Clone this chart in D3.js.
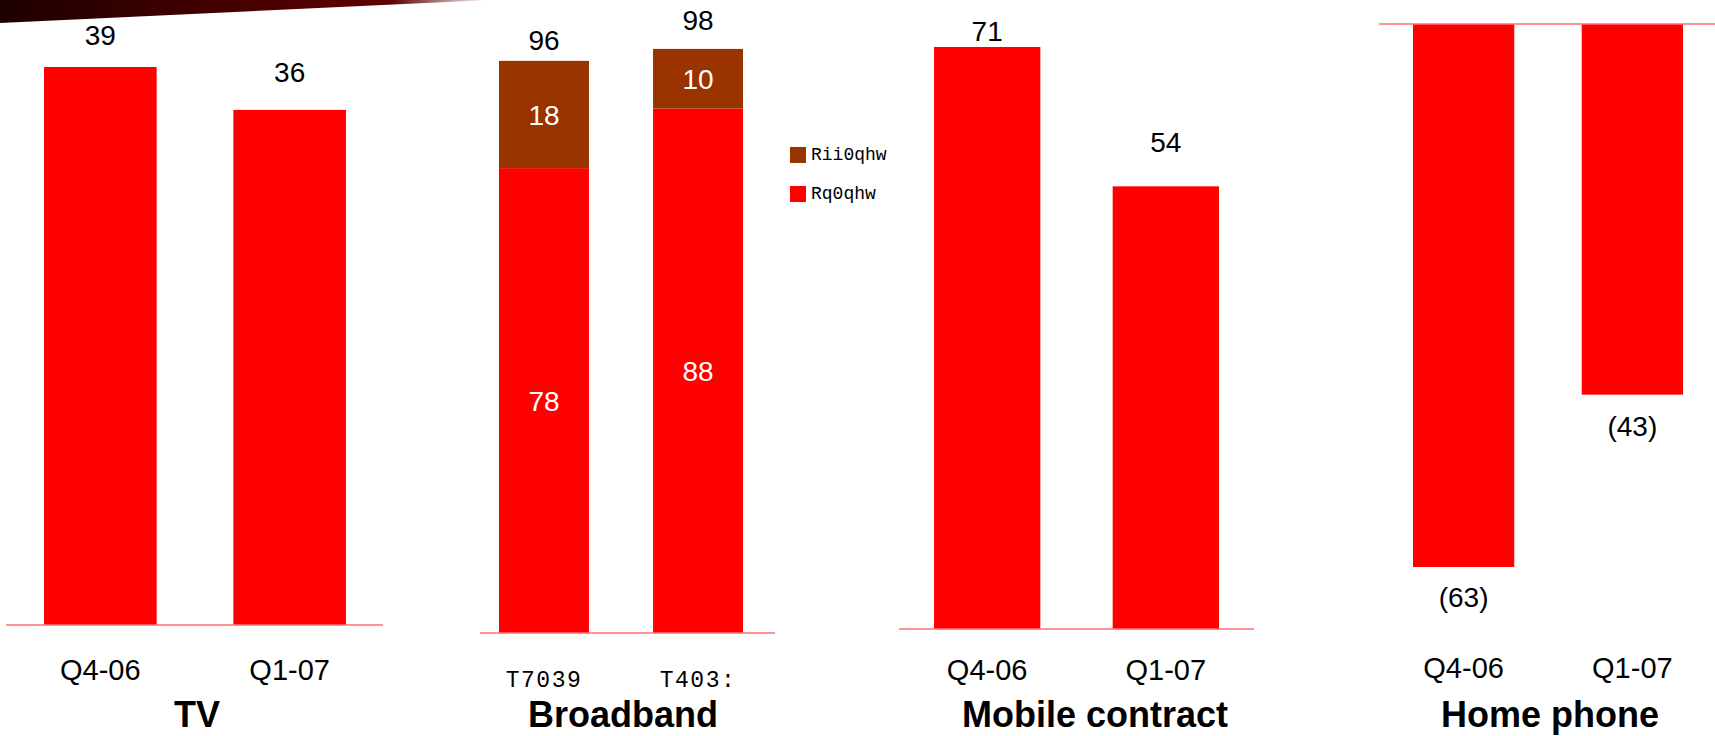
<!DOCTYPE html>
<html>
<head>
<meta charset="utf-8">
<script src="https://cdn.jsdelivr.net/npm/d3@7"></script>
<style>
    html, body { margin: 0; padding: 0; background: #fff; }
    svg { display: block; }
    text { font-family: "Liberation Sans", Arial, sans-serif; }
    .mono { font-family: "Liberation Mono", "Courier New", monospace; }
</style>
</head>
<body>
<svg id="chart" width="1715" height="736"></svg>
<script>
"use strict";

// net adds per quarter, thousands
const periods = ["Q4-06", "Q1-07"];
const tvAdds = [39, 36];
const onNetAdds = [78, 88];
const offNetAdds = [18, 10];
const mobileAdds = [71, 54];
const homePhoneAdds = [-63, -43];

const broadbandPeriodLabels = ["T7039", "T403:"];
const legendLabels = ["Rii0qhw", "Rq0qhw"];
const panelTitles = ["TV", "Broadband", "Mobile contract", "Home phone"];

const RED = "#ff0000";
const BROWN = "#993300";
const AXIS = "#ff7070";

const svg = d3.select("#chart");

// corner swoosh
const grad = svg.append("defs").append("linearGradient")
    .attr("id", "swoosh")
    .attr("x1", "0%").attr("x2", "100%");
grad.append("stop").attr("offset", "0%").attr("stop-color", "#1e0000");
grad.append("stop").attr("offset", "45%").attr("stop-color", "#440000");
grad.append("stop").attr("offset", "80%").attr("stop-color", "#600000");
grad.append("stop").attr("offset", "100%").attr("stop-color", "#ffffff");
svg.append("path")
    .attr("d", "M0,0 L490,0 L0,23 Z")
    .attr("fill", "url(#swoosh)");

// layout of each panel: bar extent, value range, axis line
const panels = [
    { title: panelTitles[0], bars: [44, 346], pad: 0.405, domain: [0, 39], range: [625, 67],
      line: [6, 383], titleX: 197, catY: 680, labelOff: [-22, -28] },
    { title: panelTitles[1], bars: [499, 743], pad: 0.416, domain: [0, 100], range: [633, 37],
      line: [480, 775], titleX: 623, catY: 687, labelOff: [-11, -19] },
    { title: panelTitles[2], bars: [934, 1219], pad: 0.405, domain: [0, 71], range: [629, 47],
      line: [899, 1254], titleX: 1095, catY: 680, labelOff: [-6, -34] },
    { title: panelTitles[3], bars: [1413, 1683], pad: 0.4, domain: [-63, 0], range: [567, 24],
      line: [1379, 1715], titleX: 1550, catY: 678, labelOff: [40, 41] }
];

function makeScales(p) {
    const x = d3.scaleBand().domain(periods).range(p.bars).paddingInner(p.pad).paddingOuter(0);
    const y = d3.scaleLinear().domain(p.domain).range(p.range);
    return { x, y };
}

function drawPanel(p, values, opts = {}) {
    const { x, y } = makeScales(p);
    const g = svg.append("g").classed("panel", true);
    const rows = periods.map((period, i) => ({ period, value: values[i], off: p.labelOff[i] }));

    g.selectAll("rect.bar")
        .data(rows)
        .join("rect")
        .classed("bar", true)
        .attr("x", d => x(d.period))
        .attr("width", x.bandwidth())
        .attr("y", d => Math.min(y(d.value), y(0)))
        .attr("height", d => Math.abs(y(d.value) - y(0)))
        .attr("fill", RED);

    g.append("line")
        .attr("x1", p.line[0]).attr("x2", p.line[1])
        .attr("y1", y(0)).attr("y2", y(0))
        .attr("stroke", AXIS)
        .attr("stroke-width", 1.5);

    g.selectAll("text.value")
        .data(rows)
        .join("text")
        .classed("value", true)
        .attr("x", d => x(d.period) + x.bandwidth() / 2)
        .attr("y", d => y(d.value) + d.off)
        .attr("text-anchor", "middle")
        .attr("font-size", 28)
        .attr("fill", "#000")
        .text(d => d.value < 0 ? `(${-d.value})` : d.value);

    const catLabels = opts.catLabels || periods;
    g.selectAll("text.cat")
        .data(periods)
        .join("text")
        .attr("class", opts.monoCats ? "cat mono" : "cat")
        .attr("x", d => x(d) + x.bandwidth() / 2)
        .attr("y", p.catY)
        .attr("text-anchor", "middle")
        .attr("font-size", opts.monoCats ? 23 : 29)
        .attr("letter-spacing", opts.monoCats ? 1.5 : 0)
        .text((d, i) => catLabels[i]);

    g.append("text")
        .attr("x", p.titleX)
        .attr("y", 727)
        .attr("text-anchor", "middle")
        .attr("font-size", 36)
        .attr("font-weight", "bold")
        .text(p.title);

    return { g, x, y };
}

drawPanel(panels[0], tvAdds);

// broadband: on-net + off-net stacked, totals on top
const bbTotals = periods.map((_, i) => onNetAdds[i] + offNetAdds[i]);
const bb = drawPanel(panels[1], bbTotals, {
    catLabels: broadbandPeriodLabels,
    monoCats: true
});
bb.g.selectAll("rect.bar").remove();

const stackRows = periods.map((period, i) => ({ period, onNet: onNetAdds[i], offNet: offNetAdds[i] }));
const stacked = d3.stack().keys(["onNet", "offNet"])(stackRows);
const stackColor = d3.scaleOrdinal().domain(["onNet", "offNet"]).range([RED, BROWN]);

const layers = bb.g.insert("g", "line")
    .selectAll("g.layer")
    .data(stacked)
    .join("g")
    .classed("layer", true)
    .attr("fill", s => stackColor(s.key));

layers.selectAll("rect")
    .data(s => s)
    .join("rect")
    .attr("x", d => bb.x(d.data.period))
    .attr("width", bb.x.bandwidth())
    .attr("y", d => bb.y(d[1]))
    .attr("height", d => bb.y(d[0]) - bb.y(d[1]));

bb.g.selectAll("g.seglabels")
    .data(stacked)
    .join("g")
    .classed("seglabels", true)
    .selectAll("text")
    .data(s => s)
    .join("text")
    .attr("x", d => bb.x(d.data.period) + bb.x.bandwidth() / 2)
    .attr("y", d => (bb.y(d[0]) + bb.y(d[1])) / 2)
    .attr("dy", "0.36em")
    .attr("text-anchor", "middle")
    .attr("font-size", 28)
    .attr("fill", "#fff")
    .text(d => d[1] - d[0]);

// legend, off-net on top
const legend = svg.append("g")
    .attr("transform", "translate(790,147)")
    .selectAll("g")
    .data([BROWN, RED])
    .join("g")
    .attr("transform", (d, i) => `translate(0,${i * 39})`);
legend.append("rect")
    .attr("width", 16).attr("height", 16)
    .attr("fill", d => d);
legend.append("text")
    .classed("mono", true)
    .attr("x", 21)
    .attr("y", 13)
    .attr("font-size", 18)
    .text((d, i) => legendLabels[i]);

drawPanel(panels[2], mobileAdds);
drawPanel(panels[3], homePhoneAdds);
</script>
</body>
</html>
